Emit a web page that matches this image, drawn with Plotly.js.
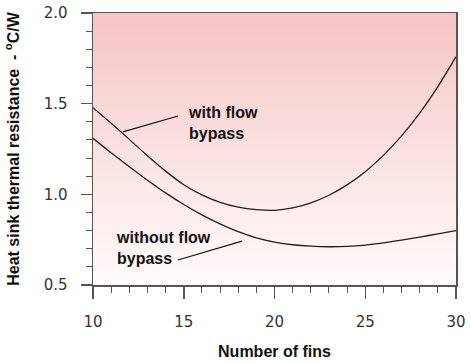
<!DOCTYPE html>
<html>
<head>
<meta charset="utf-8">
<script src="https://cdn.plot.ly/plotly-3.0.1.min.js"></script>
<style>html,body{margin:0;padding:0;background:#fff;}#chart{width:471px;height:363px;}</style>
</head>
<body>
<div id="chart"></div>
<script>
const fins = [10,11,12,13,14,15,16,17,18,19,20,21,22,23,24,25,26,27,28,29,30];
const withBypass = [1.478,1.392,1.303,1.213,1.128,1.053,0.997,0.956,0.93,0.916,0.912,0.925,0.953,0.995,1.052,1.125,1.215,1.322,1.448,1.594,1.759];
const withoutBypass = [1.309,1.229,1.152,1.078,1.008,0.944,0.887,0.837,0.794,0.76,0.737,0.722,0.714,0.711,0.713,0.72,0.732,0.747,0.764,0.782,0.80];
const xRange = [10,30];
const yRange = [0.5,2.0];
const labelWith = "with flow<br>bypass";
const labelWithout = "without flow<br>bypass";

const lineStyle = {color:'#2a1a1a', width:1.3, shape:'spline', smoothing:0.8};

const traces = [
  {
    x:[xRange[0],xRange[1],xRange[1],xRange[0],xRange[0]],
    y:[yRange[0],yRange[0],yRange[1],yRange[1],yRange[0]],
    mode:'lines', fill:'toself', line:{width:0},
    fillgradient:{type:'vertical', colorscale:[[0,'#fffbfb'],[0.5,'#fbe1e1'],[1,'#f6c4c4']]},
    hoverinfo:'skip', showlegend:false
  },
  {x:fins, y:withBypass, mode:'lines', line:lineStyle, showlegend:false},
  {x:fins, y:withoutBypass, mode:'lines', line:lineStyle, showlegend:false}
];

const tickFont = {family:'DejaVu Sans', size:15, color:'#333'};
const titleFont = {family:'Liberation Sans', size:16, color:'#111', weight:'bold'};
const noteFont = {family:'Liberation Sans', size:16, color:'#111', weight:'bold'};

const layout = {
  width:471, height:363,
  margin:{l:93, r:15, t:13, b:78},
  paper_bgcolor:'#ffffff', plot_bgcolor:'rgba(0,0,0,0)',
  showlegend:false,
  xaxis:{
    range:xRange, tickvals:[10,15,20,25,30], ticks:'outside', ticklen:12, tickwidth:1.5, tickcolor:'#555',
    minor:{dtick:1, ticks:'outside', ticklen:6, tickcolor:'#555', tickwidth:1},
    showline:true, linecolor:'#555', linewidth:1.5, mirror:true,
    showgrid:false, zeroline:false, tickfont:tickFont, ticklabelstandoff:10,
    title:{text:'Number of fins', font:titleFont, standoff:16}
  },
  yaxis:{
    range:yRange, tickvals:[0.5,1.0,1.5,2.0], tickformat:'.1f', ticks:'outside', ticklen:11, tickwidth:1.5, tickcolor:'#555',
    minor:{dtick:0.1, ticks:'outside', ticklen:6, tickcolor:'#555', tickwidth:1},
    showline:true, linecolor:'#555', linewidth:1.5, mirror:true,
    showgrid:false, zeroline:false, tickfont:tickFont, ticklabelstandoff:10,
    title:{text:'Heat sink thermal resistance  - <sup>o</sup>C/W', font:titleFont, standoff:20}
  },
  shapes:[
    {type:'line', xref:'x', yref:'y', x0:11.65, y0:1.344, x1:14.68, y1:1.432, line:{color:'#111', width:1.2}},
    {type:'line', xref:'x', yref:'y', x0:14.68, y0:0.638, x1:18.21, y1:0.742, line:{color:'#111', width:1.2}}
  ],
  annotations:[
    {x:15.15, y:1.393, xref:'x', yref:'y', text:labelWith, showarrow:false, xanchor:'left', align:'left', font:noteFont},
    {x:11.15, y:0.704, xref:'x', yref:'y', text:labelWithout, showarrow:false, xanchor:'left', align:'left', font:noteFont}
  ]
};

Plotly.newPlot('chart', traces, layout, {displayModeBar:false, staticPlot:true});
</script>
</body>
</html>
